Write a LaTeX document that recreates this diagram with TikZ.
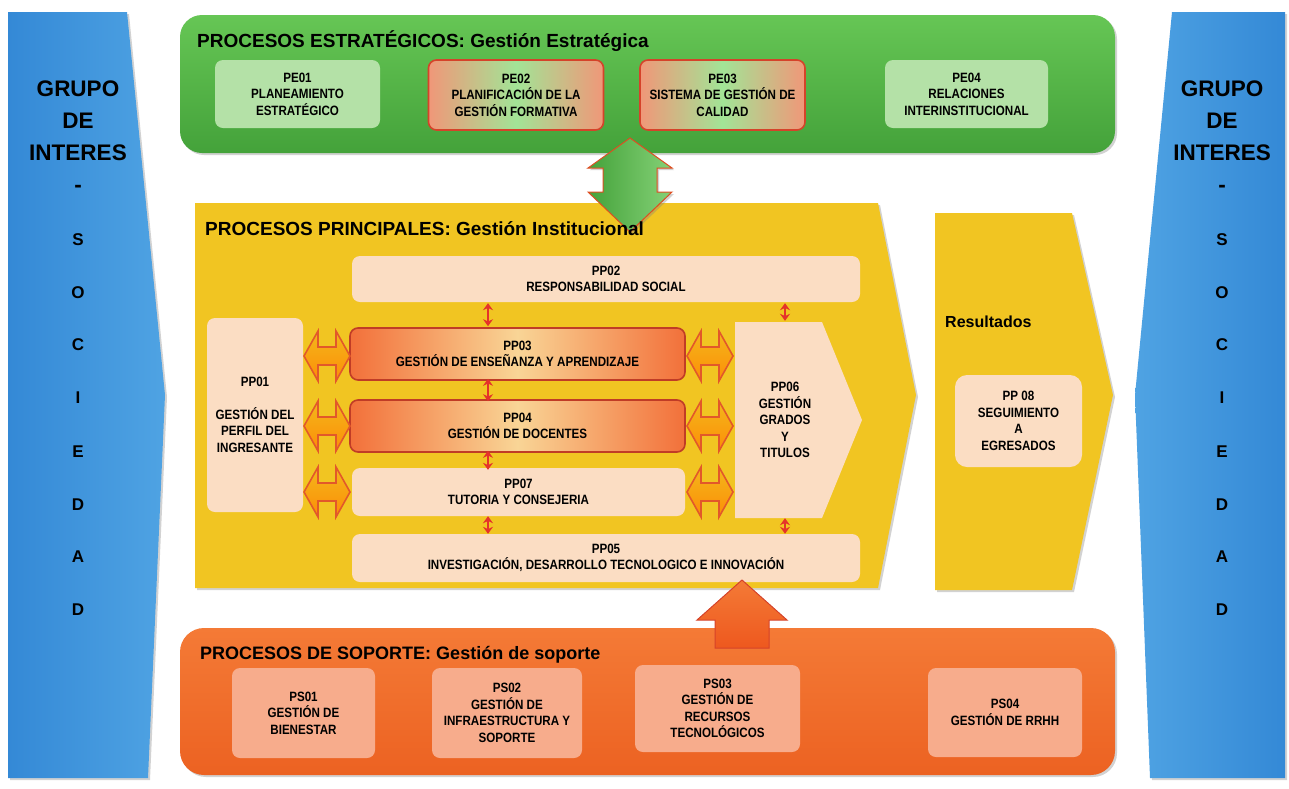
\documentclass[tikz,border=0pt]{standalone}
\usepackage{fontspec}
\setmainfont{Liberation Sans}
\newfontfamily\narrowfont{Liberation Sans}[FakeStretch=0.86]
\usetikzlibrary{shadows,arrows.meta,calc}
\definecolor{bluemain}{HTML}{3489D6}
\definecolor{bluelight}{HTML}{4FA3E3}
\definecolor{grntop}{HTML}{66C655}
\definecolor{grnbot}{HTML}{44A23A}
\definecolor{grnbox}{HTML}{B4E1A7}
\definecolor{ylw}{HTML}{F1C522}
\definecolor{peach}{HTML}{FBDDC3}
\definecolor{orgtop}{HTML}{F47A36}
\definecolor{orgbot}{HTML}{EC6222}
\definecolor{orgbox}{HTML}{F7AC8C}
\definecolor{redb}{HTML}{D5432A}
\definecolor{arrred}{HTML}{E5332A}
\definecolor{hollowedge}{HTML}{E2582A}
\definecolor{ppmid}{HTML}{F9D596}
\definecolor{ppedge}{HTML}{F2703A}
\tikzset{
  shade/.style={drop shadow={shadow xshift=2pt,shadow yshift=-2pt,opacity=0.35}},
  ttl/.style={anchor=west,inner sep=0pt,font=\bfseries\fontsize{19}{22}\selectfont},
  bx/.style={rectangle,rounded corners=8pt,align=center,inner sep=0pt,
    font=\narrowfont\bfseries\fontsize{13.5}{16.5}\selectfont},
  gbox/.style={bx,fill=grnbox},
  rgbox/.style={bx,draw=redb,line width=1.6pt,left color=orgbox!80!redb,right color=orgbox!80!redb,middle color=grnbox!90!green},
  pbox/.style={bx,fill=peach},
  rpbox/.style={bx,draw=redb!90!black,line width=1.6pt,left color=ppedge,right color=ppedge,middle color=ppmid},
  sbox/.style={bx,fill=orgbox},
  redarr/.style={draw=arrred,line width=2.2pt,{Stealth[length=7pt,width=10pt]}-{Stealth[length=7pt,width=10pt]}},
  bigtxt/.style={font=\bfseries\fontsize{22.5}{32}\selectfont,align=center,inner sep=0pt},
  lettxt/.style={font=\bfseries\fontsize{17}{20}\selectfont,inner sep=0pt},
  harr/.pic={\path[draw=hollowedge,line width=1.6pt,top color=ylw!80!orange,bottom color=orange!80!ylw]
     (-23,0) -- (-9,-25) -- (-9,-9) -- (9,-9) -- (9,-25) -- (23,0) -- (9,25) -- (9,9) -- (-9,9) -- (-9,25) -- cycle;}
}
\begin{document}
\begin{tikzpicture}[x=1pt,y=-1pt]
\useasboundingbox[fill=white] (0,0) rectangle (1289,788);

% blue side shapes
\path[shade,left color=bluemain,right color=bluelight] (8,12) -- (127,12) -- (165,395) -- (148,778) -- (8,778) -- cycle;
\path[shade,left color=bluelight,right color=bluemain] (1172,12) -- (1285,12) -- (1285,778) -- (1150,778) -- (1135,395) -- cycle;
\node[bigtxt] (gl) at (78,137) {GRUPO\\DE\\INTERES\\-};
\node[bigtxt] (gr) at (1222,137) {GRUPO\\DE\\INTERES\\-};
\foreach \l/\yy [count=\i] in {S/240,O/293,C/345,I/398,E/452,D/505,A/557,D/610}{
  \node[lettxt] (sl\i) at (78,\yy) {\l};
  \node[lettxt] (sr\i) at (1222,\yy) {\l};
}

% green strategic box
\path[shade,top color=grntop,bottom color=grnbot,rounded corners=22pt] (180,15) rectangle (1115,153);
\node[ttl] (tE) at (197,41) {PROCESOS ESTRATÉGICOS: Gestión Estratégica};
\node[gbox,minimum width=165pt,minimum height=68pt] (pe01) at (297.5,94) {PE01\\PLANEAMIENTO\\ESTRATÉGICO};
\node[rgbox,minimum width=175pt,minimum height=70pt] (pe02) at (516,95) {PE02\\PLANIFICACIÓN DE LA\\GESTIÓN FORMATIVA};
\node[rgbox,minimum width=165pt,minimum height=70pt] (pe03) at (722.5,95) {PE03\\SISTEMA DE GESTIÓN DE\\CALIDAD};
\node[gbox,minimum width=163pt,minimum height=68pt] (pe04) at (966.5,94) {PE04\\RELACIONES\\INTERINSTITUCIONAL};

% yellow main shape
\path[shade,fill=ylw] (195,203) -- (878,203) -- (916,395) -- (878,588) -- (195,588) -- cycle;
\path[shade,fill=ylw] (935,213) -- (1072,213) -- (1113,395) -- (1072,590) -- (935,590) -- cycle;

% green double arrow
\path[draw=redb!80!orange,line width=1pt,left color=grnbot,right color=grntop!80!white,shade]
  (630,138) -- (672,168) -- (657,168) -- (657,192) -- (672,192) -- (630,232) -- (588,192) -- (603,192) -- (603,168) -- (588,168) -- cycle;

\node[ttl] (tP) at (205,229) {PROCESOS PRINCIPALES: Gestión Institucional};
\node[pbox,minimum width=508pt,minimum height=46pt] (pp02) at (606,279) {PP02\\RESPONSABILIDAD SOCIAL};
\node[pbox,minimum width=96pt,minimum height=194pt] (pp01) at (255,415) {PP01\\[16pt]GESTIÓN DEL\\PERFIL DEL\\INGRESANTE};
\node[rpbox,minimum width=335pt,minimum height=52pt] (pp03) at (517.5,354) {PP03\\GESTIÓN DE ENSEÑANZA Y APRENDIZAJE};
\node[rpbox,minimum width=335pt,minimum height=52pt] (pp04) at (517.5,426) {PP04\\GESTIÓN DE DOCENTES};
\node[pbox,minimum width=333pt,minimum height=48pt] (pp07) at (518.5,492) {PP07\\TUTORIA Y CONSEJERIA};
\node[pbox,minimum width=508pt,minimum height=48pt] (pp05) at (606,558) {PP05\\INVESTIGACIÓN, DESARROLLO TECNOLOGICO E INNOVACIÓN};
\path[fill=peach] (735,322) -- (822,322) -- (862,420) -- (822,518) -- (735,518) -- cycle;
\node[bx,minimum width=100pt,minimum height=196pt] (pp06) at (785,420) {PP06\\GESTIÓN\\GRADOS\\Y\\TITULOS};

% red vertical arrows
\coordinate (cl) at (488,0);
\coordinate (cr) at (785,0);
\draw[redarr] ($(pp02.south -| cl)+(0,1)$) -- ($(pp03.north -| cl)+(0,-1)$);
\draw[redarr] ($(pp03.south -| cl)+(0,-2)$) -- ($(pp04.north -| cl)+(0,2)$);
\draw[redarr] ($(pp04.south -| cl)+(0,-2)$) -- ($(pp07.north -| cl)+(0,2)$);
\draw[redarr] ($(pp07.south -| cl)+(0,0)$) -- ($(pp05.north -| cl)+(0,0)$);
\draw[redarr] ($(pp02.south -| cr)+(0,1)$) -- ($(pp06.north -| cr)+(0,-1)$);
\draw[redarr] ($(pp06.south -| cr)+(0,0)$) -- ($(pp05.north -| cr)+(0,0)$);

% hollow double arrows
\foreach \yy in {356,426,492}{
  \pic at (327,\yy) {harr};
  \pic at (710,\yy) {harr};
}

% resultados
\node[anchor=west,inner sep=0pt,font=\bfseries\fontsize{16}{18}\selectfont] (tR) at (945,322) {Resultados};
\node[pbox,minimum width=127pt,minimum height=92pt,rounded corners=12pt] (pp08) at (1018.5,421) {PP 08\\SEGUIMIENTO\\A\\EGRESADOS};

% orange support box
\path[shade,top color=orgtop,bottom color=orgbot,rounded corners=24pt] (180,628) rectangle (1115,775);
\path[draw=redb,line width=1pt,top color=orgtop,bottom color=orgbot!90!red]
  (742,580) -- (787,620) -- (769,620) -- (769,648) -- (715,648) -- (715,620) -- (697,620) -- cycle;
\node[ttl,font=\bfseries\fontsize{18}{21}\selectfont] (tS) at (200,655) {PROCESOS DE SOPORTE: Gestión de soporte};
\node[sbox,minimum width=143pt,minimum height=90pt] (ps01) at (303.5,713) {PS01\\GESTIÓN DE\\BIENESTAR};
\node[sbox,minimum width=150pt,minimum height=90pt] (ps02) at (507,713) {PS02\\GESTIÓN DE\\INFRAESTRUCTURA Y\\SOPORTE};
\node[sbox,minimum width=165pt,minimum height=87pt] (ps03) at (717.5,708.5) {PS03\\GESTIÓN DE\\RECURSOS\\TECNOLÓGICOS};
\node[sbox,minimum width=154pt,minimum height=89pt] (ps04) at (1005,712.5) {PS04\\GESTIÓN DE RRHH};
\end{tikzpicture}
\end{document}
